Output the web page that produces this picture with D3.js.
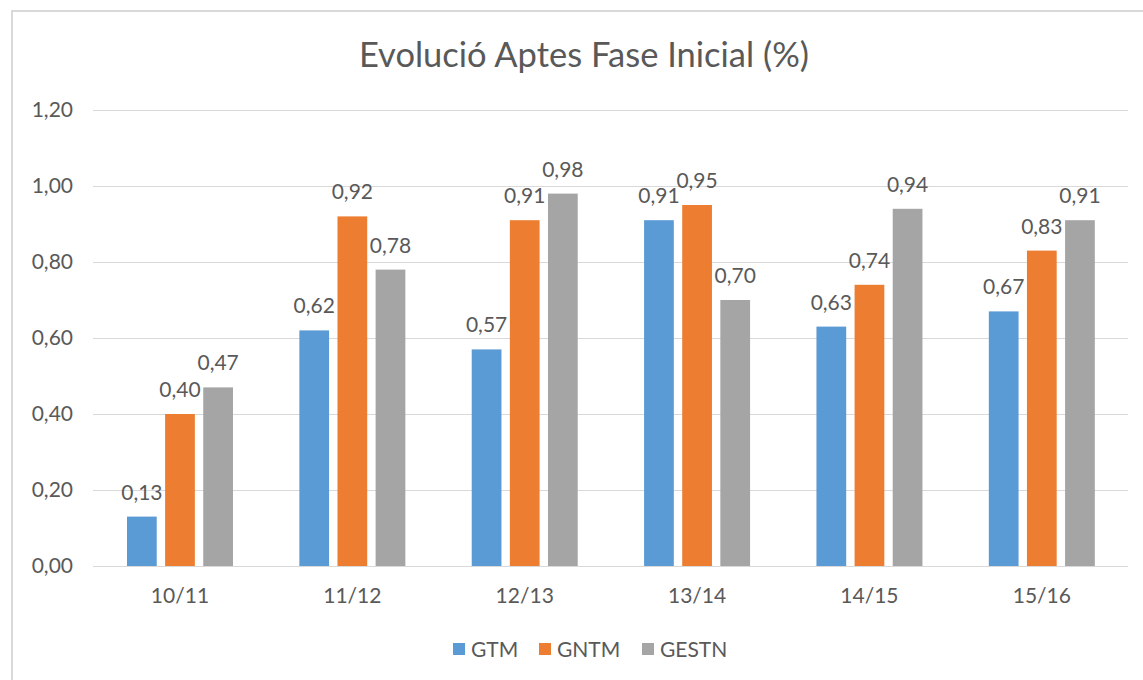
<!DOCTYPE html>
<html>
<head>
<meta charset="utf-8">
<script src="https://cdn.jsdelivr.net/npm/d3@7"></script>
<style>
  body { margin: 0; background: #fff; }
  text { font-family: Lato, "Open Sans", sans-serif; fill: #595959; }
</style>
</head>
<body>
<div id="chart"></div>
<script>
var categories = ['10/11', '11/12', '12/13', '13/14', '14/15', '15/16'];
var seriesNames = ['GTM', 'GNTM', 'GESTN'];
var gtm = [0.13, 0.62, 0.57, 0.91, 0.63, 0.67];
var gntm = [0.40, 0.92, 0.91, 0.95, 0.74, 0.83];
var gestn = [0.47, 0.78, 0.98, 0.70, 0.94, 0.91];
var yTicks = [0, 0.2, 0.4, 0.6, 0.8, 1.0, 1.2];
var colors = ['#5b9bd5', '#ed7d31', '#a5a5a5'];

var width = 1143, height = 680;
var values = [gtm, gntm, gestn];
var fmt = function (v) { return d3.format('.2f')(v).replace('.', ','); };

var svg = d3.select('#chart').append('svg')
  .attr('width', width)
  .attr('height', height);

// chart frame (runs past right/bottom edge like the screenshot)
svg.append('rect')
  .attr('x', 12).attr('y', 11)
  .attr('width', 1160).attr('height', 700)
  .attr('fill', '#fff')
  .attr('stroke', '#d9d9d9')
  .attr('stroke-width', 2);

var x0 = d3.scaleBand().domain(categories).range([93.8, 1128]).padding(0);
var x1 = d3.scaleBand().domain(seriesNames).range([0, 106]).paddingInner(0.22);
var y = d3.scaleLinear().domain([0, 1.2]).range([566, 110]);

// gridlines
svg.append('g').selectAll('line').data(yTicks)
  .enter().append('line')
  .attr('x1', 93).attr('x2', 1128)
  .attr('y1', function (d) { return Math.round(y(d)) + 0.5; })
  .attr('y2', function (d) { return Math.round(y(d)) + 0.5; })
  .attr('stroke', '#d9d9d9')
  .attr('stroke-width', 1);

// y axis labels
var yAxis = d3.axisLeft(y).tickValues(yTicks).tickFormat(fmt).tickSize(0).tickPadding(0);
var gy = svg.append('g').attr('transform', 'translate(73,0)').call(yAxis);
gy.select('.domain').remove();
gy.selectAll('text').style('font-size', '21px').attr('fill', '#595959')
  .style('font-family', 'Lato, sans-serif');

// x axis labels
var xAxis = d3.axisBottom(x0).tickSize(0).tickPadding(0);
var gx = svg.append('g').call(xAxis);
gx.select('.domain').remove();
gx.selectAll('text').attr('y', 603).attr('dy', null)
  .style('font-size', '21px').attr('fill', '#595959')
  .style('font-family', 'Lato, sans-serif');

// bars
var groups = svg.append('g').selectAll('g').data(categories)
  .enter().append('g')
  .attr('transform', function (d) { return 'translate(' + (x0(d) + x0.bandwidth() / 2 - 53) + ',0)'; });

groups.selectAll('rect')
  .data(function (d, i) { return seriesNames.map(function (s, j) { return { s: s, v: values[j][i], c: colors[j] }; }); })
  .enter().append('rect')
  .attr('x', function (d) { return x1(d.s); })
  .attr('y', function (d) { return y(d.v); })
  .attr('width', x1.bandwidth())
  .attr('height', function (d) { return y(0) - y(d.v); })
  .attr('fill', function (d) { return d.c; });

groups.selectAll('text.lbl')
  .data(function (d, i) { return seriesNames.map(function (s, j) { return { s: s, v: values[j][i] }; }); })
  .enter().append('text')
  .attr('class', 'lbl')
  .attr('x', function (d) { return x1(d.s) + x1.bandwidth() / 2; })
  .attr('y', function (d) { return y(d.v) - 17; })
  .attr('text-anchor', 'middle')
  .style('font-size', '21px')
  .text(function (d) { return fmt(d.v); });

// title
svg.append('text')
  .attr('x', 584).attr('y', 67)
  .attr('text-anchor', 'middle')
  .style('font-size', '34.5px')
  .text('Evolució Aptes Fase Inicial (%)');

// legend
var legendX = [453, 539, 642];
var legend = svg.append('g').selectAll('g').data(seriesNames)
  .enter().append('g')
  .attr('transform', function (d, i) { return 'translate(' + legendX[i] + ',643)'; });
legend.append('rect')
  .attr('width', 12).attr('height', 12)
  .attr('fill', function (d, i) { return colors[i]; });
legend.append('text')
  .attr('x', 18).attr('y', 14)
  .style('font-size', '21px')
  .text(function (d) { return d; });
</script>
</body>
</html>
